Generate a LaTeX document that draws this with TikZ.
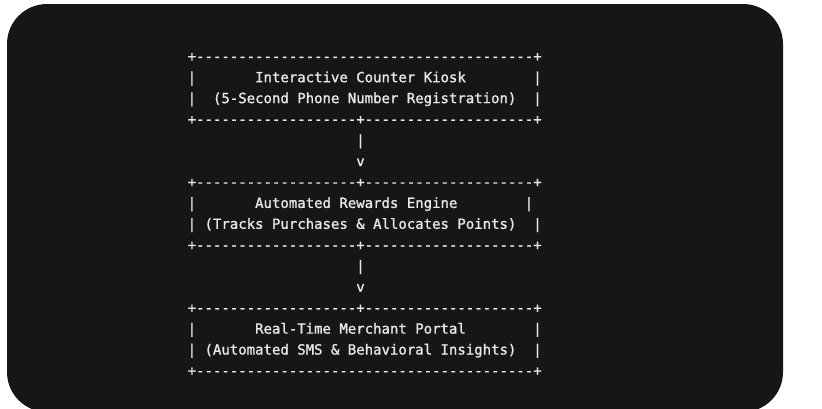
\documentclass[tikz,border=0pt]{standalone}
\usepackage{fontspec}
\setmonofont{DejaVu Sans Mono}[Ligatures=TeXOff,FakeBold=1.2]
\definecolor{panel}{HTML}{161616}
\definecolor{ink}{HTML}{E8E8E8}
\newcommand{\fullrow}{+----------------------------------------+}
\newcommand{\splitrow}{+-------------------+--------------------+}
\begin{document}
\begin{tikzpicture}[x=1pt,y=-1pt,
  txt/.style={font=\ttfamily\fontsize{14}{17}\selectfont\frenchspacing,text=ink,inner sep=0pt,anchor=base west}]
 \useasboundingbox (0,0) rectangle (822,408);
 \fill[white] (0,0) rectangle (822,408);
 \fill[panel,rounded corners=40pt] (7,4) rectangle (783,412);
 % kiosk
 \node[txt] (k1) at (187.5,61.2) {\fullrow};
 \node[txt] (k2) at (187.5,82.2) {|~~~~~~~Interactive Counter Kiosk~~~~~~~~|};
 \node[txt] (k3) at (187.5,103.1) {|~~(5-Second Phone Number Registration)~~|};
 \node[txt] (k4) at (187.5,124.1) {\splitrow};
 \node[txt] (a1) at (187.5,145.0) {~~~~~~~~~~~~~~~~~~~~|};
 \node[txt] (a2) at (187.5,166.0) {~~~~~~~~~~~~~~~~~~~~v};
 % rewards engine
 \node[txt] (e1) at (187.5,186.9) {\splitrow};
 \node[txt] (e2) at (187.5,207.9) {|~~~~~~~Automated Rewards Engine~~~~~~~~|};
 \node[txt] (e3) at (187.5,228.8) {|~(Tracks Purchases \& Allocates Points)~~|};
 \node[txt] (e4) at (187.5,249.8) {\splitrow};
 \node[txt] (b1) at (187.5,270.7) {~~~~~~~~~~~~~~~~~~~~|};
 \node[txt] (b2) at (187.5,291.7) {~~~~~~~~~~~~~~~~~~~~v};
 % merchant portal
 \node[txt] (p1) at (187.5,312.6) {\splitrow};
 \node[txt] (p2) at (187.5,333.6) {|~~~~~~~Real-Time Merchant Portal~~~~~~~~|};
 \node[txt] (p3) at (187.5,354.5) {|~(Automated SMS \& Behavioral Insights)~~|};
 \node[txt] (p4) at (187.5,375.5) {\fullrow};
\end{tikzpicture}
\end{document}
